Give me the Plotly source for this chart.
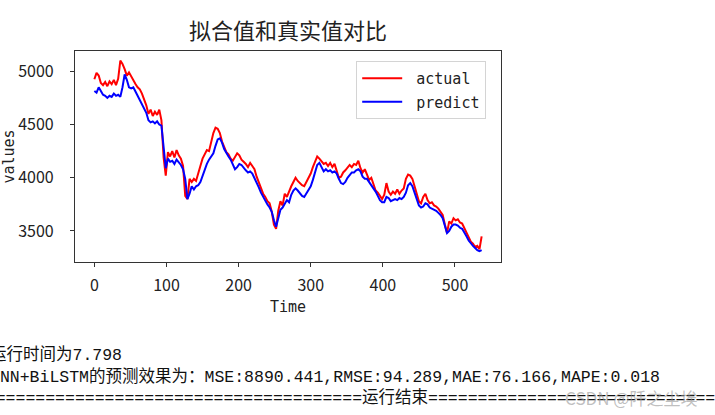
import plotly.graph_objects as go

# time index, every 3rd step of the 538-step test window
time = list(range(0, 538, 3))

actual = [
    4925, 4985, 4960, 4890, 4870, 4900, 4860, 4905, 4880, 4920,
    4870, 4930, 5100, 5070, 5020, 4960, 4990, 4950, 4920, 4880,
    4850, 4830, 4790, 4740, 4680, 4600, 4640, 4580, 4620, 4590,
    4640, 4540, 4190, 4020, 4240, 4200, 4250, 4190, 4260, 4210,
    4180, 4110, 3830, 3800, 3990, 3960, 3990, 3970, 4050, 4110,
    4180, 4220, 4260, 4250, 4330, 4420, 4470, 4460, 4420, 4340,
    4290, 4240, 4220, 4180, 4160, 4200, 4230, 4210, 4170, 4150,
    4130, 4100, 4140, 4110, 4080, 4010, 3960, 3900, 3850, 3820,
    3780, 3760, 3680, 3560, 3520, 3690, 3780, 3740, 3850, 3820,
    3880, 3920, 3960, 4000, 3970, 3950, 3930, 3920, 3960, 4010,
    4040, 4100, 4150, 4200, 4180, 4150, 4130, 4140, 4110, 4140,
    4100, 4130, 4070, 4000, 4010, 4050, 4070, 4100, 4120, 4100,
    4130, 4120, 4160, 4090, 4050, 4080, 4020, 3980, 4000, 3940,
    3880, 3860, 3830, 3800, 3840, 3950, 3870, 3840, 3870, 3850,
    3890, 3850, 3880, 3900, 3990, 4030, 4020, 3990, 3920, 3850,
    3780, 3760, 3820, 3850, 3790, 3760, 3770, 3740, 3730, 3710,
    3680, 3650, 3560, 3480, 3590, 3570, 3620, 3600, 3610, 3580,
    3570, 3530, 3490, 3440, 3400, 3380, 3350, 3360, 3330, 3450,
]

predict = [
    4815, 4800, 4850, 4820, 4780, 4770, 4750, 4770, 4760, 4790,
    4770, 4780, 4760, 4850, 4970, 4920, 4850, 4840, 4850, 4810,
    4770, 4730, 4700, 4660, 4610, 4540, 4520, 4530, 4510, 4530,
    4500, 4490, 4300, 4090, 4180, 4150, 4160, 4130, 4170, 4150,
    4120, 4080, 3990, 3800, 3850, 3920, 3890, 3920, 3930, 3960,
    4020, 4090, 4130, 4170, 4200, 4230, 4300, 4360, 4370, 4330,
    4270, 4230, 4200, 4170, 4120, 4080, 4100, 4130, 4120, 4090,
    4070, 4050, 4060, 4040, 4000, 3960, 3910, 3860, 3820, 3780,
    3750, 3720, 3680, 3600, 3540, 3620, 3700, 3720, 3760, 3790,
    3770, 3840, 3880, 3900, 3880, 3850, 3830, 3820, 3850, 3890,
    3920, 3980, 4050, 4120, 4140, 4100, 4060, 4080, 4060, 4070,
    4050, 4060, 4040, 3990, 3950, 3940, 3960, 4000, 4030, 4050,
    4050, 4070, 4080, 4060, 4010, 3990, 3990, 3960, 3940, 3910,
    3870, 3830, 3790, 3770, 3770, 3820, 3810, 3780, 3790, 3800,
    3790, 3810, 3800, 3820, 3860, 3930, 3950, 3920, 3860, 3800,
    3740, 3720, 3730, 3760, 3750, 3720, 3710, 3700, 3690, 3670,
    3650, 3620, 3560, 3480, 3500, 3540, 3560, 3560, 3550, 3530,
    3520, 3490, 3450, 3410, 3380, 3360, 3340, 3320, 3310, 3320,
]

x_ticks = [0, 100, 200, 300, 400, 500]
y_ticks = [3500, 4000, 4500, 5000]

# console output printed under the figure
run_time_line = "运行时间为7.798"
metrics_line = "CNN+BiLSTM的预测效果为：MSE:8890.441,RMSE:94.289,MAE:76.166,MAPE:0.018"
end_line = "=" * 40 + "运行结束" + "=" * 36
watermark = "CSDN @阡之尘埃"

mono = "DejaVu Sans Mono, Noto Sans CJK SC"
cjk = "Noto Sans CJK SC, Noto Sans"
console = "Liberation Mono, Noto Sans CJK SC"

fig = go.Figure()
fig.add_trace(go.Scatter(x=time, y=actual, mode="lines", name="\u00a0actual",
                         legendgroup="a", line=dict(color="#ff0000", width=2)))
fig.add_trace(go.Scatter(x=time, y=predict, mode="lines", name="\u00a0predict",
                         legendgroup="p", line=dict(color="#0000ff", width=2)))

# plot area: 75..501 px wide, 51..262 px tall
pl, pw, pt, ph = 75, 425.7, 50.7, 211.0


def px_x(px):
    return (px - pl) / pw


def px_y(py):
    return (pt + ph - py) / ph


fig.update_layout(
    width=715, height=415,
    margin=dict(l=75, r=214, t=51, b=153),
    paper_bgcolor="white", plot_bgcolor="white",
    font=dict(family=cjk, size=15, color="#222222"),
    title=dict(text="拟合值和真实值对比", font=dict(family=cjk, size=22, color="#222222"),
               x=0.5, xref="paper", xanchor="center",
               y=1 - 31.7 / 415, yref="container", yanchor="middle"),
    xaxis=dict(range=[-26.85, 563.85], tickvals=x_ticks, showgrid=False, zeroline=False,
               showline=True, mirror=True, linecolor="#333333", linewidth=1.2,
               ticks="outside", ticklen=4, tickcolor="#333333", ticklabelstandoff=5,
               tickfont=dict(family=cjk, size=16, color="#222222"), automargin=False,
               title=dict(text="Time", font=dict(family=mono, size=15), standoff=6)),
    yaxis=dict(range=[3208.6, 5190.8], tickvals=y_ticks, showgrid=False, zeroline=False,
               showline=True, mirror=True, linecolor="#333333", linewidth=1.2,
               ticks="outside", ticklen=4, tickcolor="#333333", ticklabelstandoff=13,
               tickfont=dict(family=cjk, size=16, color="#222222"), automargin=False,
               title=dict(text="values", font=dict(family=mono, size=15), standoff=1)),
    legend=dict(x=px_x(356), y=px_y(60.7), xanchor="left", yanchor="top",
                bgcolor="white", bordercolor="#d4d4d4", borderwidth=1,
                font=dict(family=mono, size=15, color="#222222"),
                itemwidth=40, tracegroupgap=1, traceorder="grouped"),
    showlegend=True,
)

notes = [
    (run_time_line, -12, 355),
    (metrics_line, -12, 377),
    (end_line, -36, 398),
]
for text, px, py in notes:
    fig.add_annotation(text=text, x=px_x(px), y=px_y(py), xref="paper", yref="paper",
                       xanchor="left", yanchor="middle", showarrow=False,
                       font=dict(family=console, size=16.5, color="#111111"))

fig.add_annotation(text=watermark, x=px_x(699), y=px_y(397), xref="paper", yref="paper",
                   xanchor="right", yanchor="middle", showarrow=False,
                   font=dict(family=cjk, size=17, color="rgba(150,150,150,0.6)"))

# the page body keeps its default 8px margin otherwise; no modebar in the reference
fig.write_html("out.html", config={"displayModeBar": False},
               post_script="document.body.style.margin='0';")
